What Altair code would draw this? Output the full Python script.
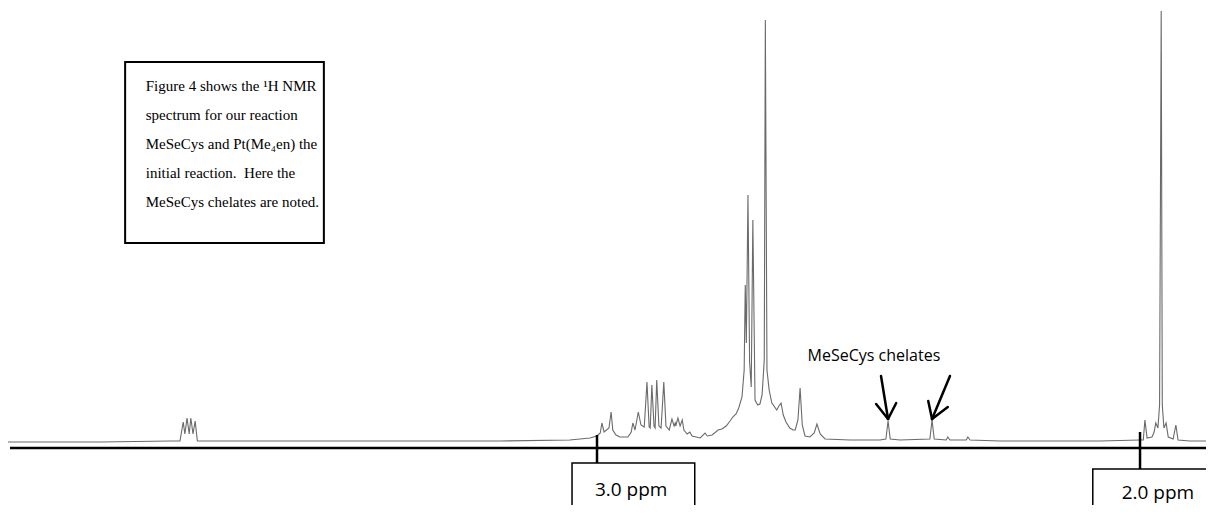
import altair as alt
import pandas as pd

# ---- spectrum trace (chemical shift in ppm, intensity) ----
shift_ppm = [
    4.085, 3.915, 3.786, 3.768, 3.762, 3.759, 3.755, 3.751, 3.748, 3.744, 3.740, 3.736,
    3.547, 3.363, 3.179, 3.050, 3.013, 3.000, 2.994, 2.991, 2.987, 2.978, 2.974, 2.971,
    2.965, 2.958, 2.943, 2.937, 2.934, 2.930, 2.924, 2.919, 2.913, 2.908, 2.904, 2.902,
    2.899, 2.895, 2.893, 2.890, 2.886, 2.882, 2.877, 2.873, 2.867, 2.862, 2.858, 2.856,
    2.855, 2.851, 2.847, 2.843, 2.840, 2.834, 2.829, 2.825, 2.810, 2.801, 2.797, 2.788,
    2.777, 2.770, 2.762, 2.755, 2.750, 2.744, 2.739, 2.733, 2.729, 2.727, 2.725, 2.722,
    2.719, 2.716, 2.713, 2.709, 2.704, 2.700, 2.696, 2.692, 2.690, 2.687, 2.683, 2.678,
    2.669, 2.665, 2.661, 2.657, 2.652, 2.645, 2.639, 2.635, 2.630, 2.626, 2.622, 2.617,
    2.608, 2.600, 2.595, 2.589, 2.580, 2.534, 2.479, 2.468, 2.464, 2.460, 2.442, 2.387,
    2.383, 2.379, 2.357, 2.354, 2.350, 2.320, 2.317, 2.313, 2.258, 2.166, 2.074, 2.000,
    1.994, 1.991, 1.987, 1.978, 1.974, 1.971, 1.967, 1.964, 1.961, 1.959, 1.956, 1.952,
    1.948, 1.939, 1.934, 1.930, 1.908, 1.864,
]
intensity = [
    -1, -1, 0, 0, 19, 7, 23, 7, 23, 7, 20, 0,
    0, 0, 0, 1, 3, 5, 8, 18, 9, 13, 29, 11,
    6, 4, 4, 9, 18, 11, 29, 16, 14, 59, 14, 13,
    56, 15, 13, 61, 15, 13, 59, 15, 11, 22, 15, 18,
    15, 23, 15, 21, 11, 7, 9, 5, 3, 8, 5, 6,
    11, 12, 15, 20, 24, 27, 33, 44, 71, 156, 98, 246,
    79, 54, 221, 41, 36, 37, 46, 81, 421, 71, 51, 38,
    31, 35, 38, 26, 19, 13, 11, 11, 21, 53, 16, 5,
    4, 8, 17, 7, 2, 1, 1, 2, 20, 2, 1, 2,
    21, 2, 1, 4, 1, 1, 4, 1, 0, 0, 0, 1,
    1, 21, 3, 4, 9, 18, 13, 36, 430, 36, 13, 18,
    4, 2, 16, 1, 0, 0,
]

# ---- axis decorations ----
tick_ppm = [3.0, 2.0]
tick_labels = ["3.0 ppm", "2.0 ppm"]
tick_top = [6, 9]
tick_bottom = [-22, -28]
box_left = [3.046, 2.087]
box_right = [2.820, 1.816]
label_ppm = [2.937, 1.967]
label_y = [-49, -52]
label_size = [19, 19]

# ---- annotation: note box ----
note_lines = [
    "Figure 4 shows the \u00b9H NMR",
    "spectrum for our reaction",
    "MeSeCys and Pt(Me\u2084en) the",
    "initial reaction.\u00a0 Here the",
    "MeSeCys chelates are noted.",
]
note_y = [355, 326, 297, 268, 239]

# ---- annotation: chelate arrows ----
arrow_x1 = [2.477, 2.486, 2.449, 2.350, 2.390, 2.354]
arrow_y1 = [65, 37, 38, 65, 40, 34]
arrow_x2 = [2.464, 2.464, 2.464, 2.383, 2.383, 2.383]
arrow_y2 = [22, 22, 22, 22, 22, 22]

xs = alt.Scale(domain=[1.8785, 4.0847], reverse=True)
ys = alt.Scale(domain=[-64, 433])

spec = pd.DataFrame({"x": shift_ppm, "y": intensity})
line = alt.Chart(spec).mark_line(color="#6a6a6a", strokeWidth=1.1, clip=True).encode(
    x=alt.X("x:Q", scale=xs, axis=None),
    y=alt.Y("y:Q", scale=ys, axis=None),
)

axis_df = pd.DataFrame({"x": [4.081], "x2": [1.816], "y": [-7]})
axis_line = alt.Chart(axis_df).mark_rule(color="black", strokeWidth=2.5, clip=True).encode(
    x=alt.X("x:Q", scale=xs), x2="x2:Q", y=alt.Y("y:Q", scale=ys)
)

box_df = pd.DataFrame({
    "x": box_left, "x2": box_right, "y": tick_bottom, "y2": [-90, -90],
    "tx": label_ppm, "ty": label_y, "label": tick_labels, "size": label_size,
    "t": tick_ppm, "top": tick_top,
})
boxes = alt.Chart(box_df).mark_rect(fill="white", stroke="black", strokeWidth=1.5, clip=True).encode(
    x=alt.X("x:Q", scale=xs), x2="x2:Q", y=alt.Y("y:Q", scale=ys), y2="y2:Q"
)
ticks = alt.Chart(box_df).mark_rule(color="black", strokeWidth=2.5).encode(
    x=alt.X("t:Q", scale=xs), y=alt.Y("top:Q", scale=ys), y2="y:Q"
)
labels = alt.Chart(box_df).mark_text(font="Open Sans", color="black", align="center", baseline="middle").encode(
    x=alt.X("tx:Q", scale=xs), y=alt.Y("ty:Q", scale=ys), text="label:N",
    size=alt.Size("size:Q", scale=None, legend=None),
)

note_box_df = pd.DataFrame({"x": [3.869], "x2": [3.503], "y": [379], "y2": [198]})
note_box = alt.Chart(note_box_df).mark_rect(fill="white", stroke="black", strokeWidth=2).encode(
    x=alt.X("x:Q", scale=xs), x2="x2:Q", y=alt.Y("y:Q", scale=ys), y2="y2:Q"
)
note_df = pd.DataFrame({"x": [3.831] * len(note_lines), "y": note_y, "text": note_lines})
note_text = alt.Chart(note_df).mark_text(
    font="Liberation Serif", fontSize=15, color="black", align="left", baseline="middle"
).encode(x=alt.X("x:Q", scale=xs), y=alt.Y("y:Q", scale=ys), text="text:N")

chel_df = pd.DataFrame({"x": [2.490], "y": [85], "text": ["MeSeCys chelates"]})
chel_text = alt.Chart(chel_df).mark_text(
    font="Open Sans", fontSize=16, color="black", align="center", baseline="middle"
).encode(x=alt.X("x:Q", scale=xs), y=alt.Y("y:Q", scale=ys), text="text:N")

arrow_df = pd.DataFrame({"x": arrow_x1, "y": arrow_y1, "x2": arrow_x2, "y2": arrow_y2})
arrows = alt.Chart(arrow_df).mark_rule(color="black", strokeWidth=2.5, strokeCap="round").encode(
    x=alt.X("x:Q", scale=xs), y=alt.Y("y:Q", scale=ys), x2="x2:Q", y2="y2:Q"
)

chart = alt.layer(
    line, axis_line, boxes, ticks, labels, note_box, note_text, chel_text, arrows
).properties(
    width=1198, height=497, padding=0,
    autosize=alt.AutoSizeParams(type="none"),
    background="white",
).configure_view(stroke=None)

chart.save("out.html", embed_options={"renderer": "svg", "actions": False})
